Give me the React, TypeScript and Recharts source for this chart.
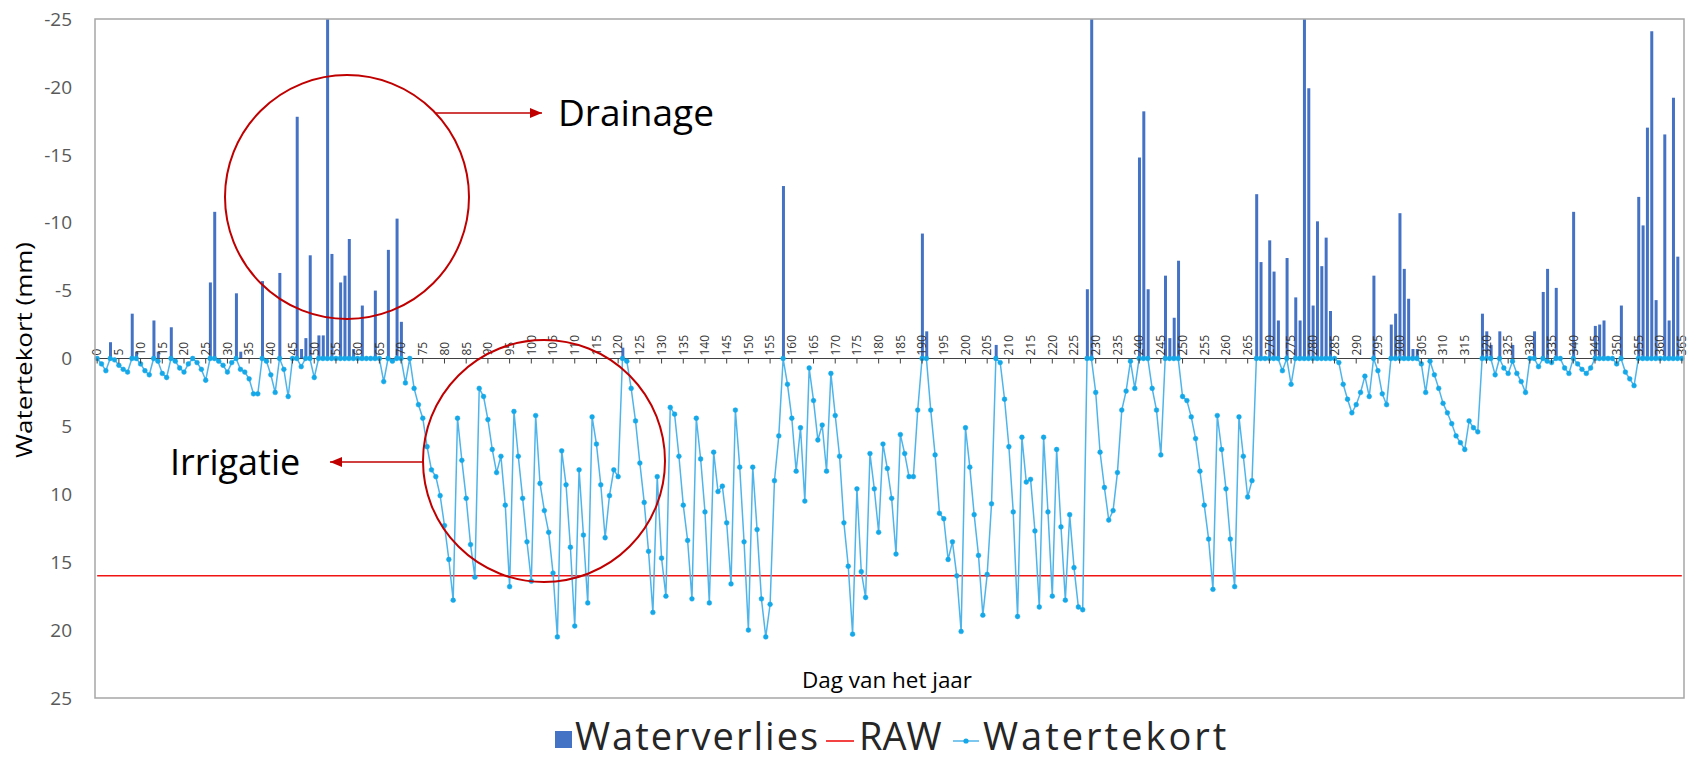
import React from 'react';
import { ComposedChart, Bar, Line, XAxis, YAxis, ReferenceLine } from 'recharts';

const W = 1690;
const H = 762;
const PLOT_LEFT = 95;
const PLOT_TOP = 19;
const PLOT_RIGHT = 1684;
const PLOT_BOTTOM = 698;
const ZERO_Y = (PLOT_TOP + PLOT_BOTTOM) / 2;

const yTicks = [-25, -20, -15, -10, -5, 0, 5, 10, 15, 20, 25];
const rawLevel = 16;

// Waterverlies (drainage), mm per day, day 0..365 (negative = upward)
const waterverlies = [
  0, 0, 0, -1.2, 0, 0, 0, 0, -3.3, -0.5,
  0, 0, 0, -2.8, -0.5, 0, 0, -2.3, 0, 0,
  0, 0, 0, 0, 0, 0, -5.6, -10.8, 0, 0,
  0, 0, -4.8, -0.5, 0, 0, 0, 0, -5.7, 0,
  0, 0, -6.3, 0, 0, 0, -17.8, -0.7, -1.5, -7.6,
  0, -1.7, -1.7, -28, -7.7, 0, -5.6, -6.1, -8.8, -0.7,
  0, -3.9, 0, 0, -5.0, 0, 0, -8.0, 0, -10.3,
  -2.7, 0, 0, 0, 0, 0, 0, 0, 0, 0,
  0, 0, 0, 0, 0, 0, 0, 0, 0, 0,
  0, 0, 0, 0, 0, 0, 0, 0, 0, 0,
  0, 0, 0, 0, 0, 0, 0, 0, 0, 0,
  0, 0, 0, 0, 0, 0, 0, 0, 0, 0,
  0, -0.8, 0, 0, 0, 0, 0, 0, 0, 0,
  0, 0, 0, 0, 0, 0, 0, 0, 0, 0,
  0, 0, 0, 0, 0, 0, 0, 0, 0, 0,
  0, 0, 0, 0, 0, 0, 0, 0, -12.7, 0,
  0, 0, 0, 0, 0, 0, 0, 0, 0, 0,
  0, 0, 0, 0, 0, 0, 0, 0, 0, 0,
  0, 0, 0, 0, 0, 0, 0, 0, 0, 0,
  -9.2, -2.0, 0, 0, 0, 0, 0, 0, 0, 0,
  0, 0, 0, 0, 0, 0, 0, -1.0, 0, 0,
  0, 0, 0, 0, 0, 0, 0, 0, 0, 0,
  0, 0, 0, 0, 0, 0, 0, 0, -5.1, -28,
  0, 0, 0, 0, 0, 0, 0, 0, 0, 0,
  -14.8, -18.2, -5.1, 0, 0, 0, -6.1, -1.5, -3.0, -7.2,
  0, 0, 0, 0, 0, 0, 0, 0, 0, 0,
  0, 0, 0, 0, 0, 0, 0, -12.1, -7.1, 0,
  -8.7, -6.4, -2.8, 0, -7.4, 0, -4.5, -2.8, -28, -19.9,
  -3.9, -10.1, -6.8, -8.9, -3.5, 0, 0, 0, 0, 0,
  0, 0, 0, 0, -6.1, 0, 0, 0, -2.5, -3.3,
  -10.7, -6.6, -4.4, -0.7, -0.7, 0, 0, 0, 0, 0,
  0, 0, 0, 0, 0, 0, 0, 0, 0, -3.3,
  -2.0, -1.0, 0, -2.0, 0, 0, -1.0, 0, 0, 0,
  0, -2.0, 0, -4.9, -6.6, 0, -5.2, 0, 0, 0,
  -10.8, 0, 0, 0, 0, -2.4, -2.5, -2.8, 0, 0,
  0, -3.9, 0, 0, 0, -11.9, -9.8, -17.0, -24.1, -4.3,
  0, -16.5, -2.8, -19.2, -7.5, 0,
];

// Watertekort (water deficit), mm, day 0..365
const watertekort = [
  0, 0.4, 0.9, 0, 0.1, 0.5, 0.8, 1.0, 0, 0,
  0.4, 0.9, 1.2, 0, 0.2, 1.1, 1.4, 0, 0.2, 0.7,
  1.0, 0.4, 0, 0.3, 0.8, 1.6, 0, 0, 0.2, 0.5,
  1.0, 0.3, 0, 0.8, 1.0, 1.5, 2.6, 2.6, 0, 0.2,
  1.2, 2.5, 0, 0.8, 2.8, 0, 0, 0.6, 0, 0,
  1.4, 0, 0, 0, 0, 0, 0, 0, 0, 0,
  0, 0, 0, 0, 0, 0, 1.7, 0, 0.2, 0,
  0, 1.8, 0, 2.2, 3.4, 4.4, 6.5, 8.2, 8.7, 10.1,
  12.3, 14.8, 17.8, 4.4, 7.5, 10.3, 13.7, 16.1, 2.2, 2.8,
  4.5, 6.7, 8.4, 7.2, 10.8, 16.8, 3.9, 7.2, 10.3, 13.5,
  16.4, 4.2, 9.2, 11.2, 12.8, 15.8, 20.5, 6.8, 9.3, 13.9,
  19.7, 8.2, 13.0, 18.0, 4.3, 6.3, 9.3, 13.2, 10.1, 8.2,
  8.7, 0, 0.2, 2.2, 4.6, 7.7, 10.6, 14.2, 18.7, 8.7,
  14.7, 17.5, 3.6, 4.1, 7.2, 10.8, 13.4, 17.7, 4.4, 7.4,
  11.3, 18.0, 6.9, 9.8, 9.4, 12.1, 16.6, 3.8, 8.0, 13.5,
  20.0, 8.0, 12.6, 17.7, 20.5, 18.1, 9.0, 5.7, 0, 1.9,
  4.4, 8.3, 5.1, 10.5, 0.7, 3.1, 6.0, 4.9, 8.3, 1.1,
  4.2, 7.2, 12.1, 15.3, 20.3, 9.6, 15.7, 17.6, 7.0, 9.6,
  12.8, 6.3, 8.1, 10.3, 14.4, 5.6, 7.0, 8.7, 8.7, 3.8,
  0, 0, 3.8, 7.1, 11.4, 11.8, 14.8, 13.5, 16.0, 20.1,
  5.1, 8.0, 11.5, 14.5, 18.9, 15.9, 10.7, 0, 0.3, 3.0,
  6.5, 11.3, 19.0, 5.8, 9.1, 8.9, 12.7, 18.3, 5.8, 11.3,
  17.5, 6.7, 12.4, 17.8, 11.5, 15.4, 18.3, 18.5, 0, 0,
  2.5, 6.9, 9.5, 11.9, 11.2, 8.4, 3.8, 2.4, 0.2, 2.2,
  0, 0, 0, 2.2, 3.8, 7.1, 0, 0, 0, 0,
  2.8, 3.1, 4.3, 5.9, 8.3, 10.8, 13.3, 17.0, 4.2, 6.7,
  9.6, 13.3, 16.8, 4.3, 7.2, 10.2, 9.0, 0, 0, 0,
  0, 0, 0, 0.9, 0, 1.9, 0, 0, 0, 0,
  0, 0, 0, 0, 0, 0, 0.3, 1.9, 3.0, 4.0,
  3.4, 2.5, 1.3, 2.8, 0, 0.9, 2.6, 3.4, 0, 0,
  0, 0, 0, 0, 0, 0.4, 2.5, 0.2, 1.2, 2.2,
  3.3, 4.0, 4.8, 5.7, 6.2, 6.7, 4.6, 5.1, 5.4, 0,
  0, 0, 1.2, 0, 0.7, 1.1, 0.2, 1.1, 1.7, 2.5,
  0, 0, 0.6, 0, 0.2, 0.3, 0, 0, 0.7, 1.1,
  0, 0.4, 0.8, 1.1, 0.7, 0, 0, 0, 0, 0,
  0.4, 0, 1.0, 1.5, 2.0, 0, 0, 0, 0, 0,
  0, 0, 0, 0, 0, 0,
];

const dagen = watertekort.map((_, i) => i);

const data = dagen.map((d, i) => ({
  dag: d,
  waterverlies: waterverlies[i],
  watertekort: watertekort[i],
  raw: rawLevel,
}));

const BAR_COLOR = '#4472C4';
const LINE_COLOR = '#4FB4EA';
const DOT_COLOR = '#14A8E8';
const RAW_COLOR = '#F01414';
const ANNOT_COLOR = '#C00000';
const FONT = '"Open Sans", "DejaVu Sans", sans-serif';

const DayTick = (props: any) => {
  const { x, payload } = props;
  const tx = x + 4.3;
  const ty = ZERO_Y - 3;
  return (
    <g>
      <line x1={x} x2={x} y1={ZERO_Y} y2={ZERO_Y + 5} stroke="#404040" strokeWidth={1} />
      <text
        x={tx}
        y={ty}
        transform={`rotate(-90 ${tx} ${ty})`}
        textAnchor="start"
        fontSize={12}
        fill="#333333"
        fontFamily={FONT}
      >
        {payload.value}
      </text>
    </g>
  );
};

export default function App() {
  const lcy = 741;
  const lfs = 38;
  const lby = 750;
  return (
    <div style={{ position: 'absolute', left: 0, top: 0, width: W, height: H, background: '#ffffff' }}>
      <ComposedChart
        width={W}
        height={H}
        data={data}
        margin={{ top: PLOT_TOP, right: W - PLOT_RIGHT, bottom: H - PLOT_BOTTOM - 1, left: 0 }}
        barSize={3}
        barGap={0}
      >
        <XAxis
          dataKey="dag"
          interval={4}
          height={1}
          axisLine={false}
          tickLine={false}
          tick={(p: any) => <DayTick {...p} />}
        />
        <YAxis
          type="number"
          domain={[-25, 25]}
          reversed
          ticks={yTicks}
          interval={0}
          allowDataOverflow
          width={PLOT_LEFT}
          axisLine={false}
          tickLine={false}
          tickMargin={17}
          tick={{ fill: '#595959', fontSize: 19, fontFamily: FONT }}
        />
        <ReferenceLine y={0} stroke="#404040" strokeWidth={1} />
        <Bar dataKey="waterverlies" name="Waterverlies" fill={BAR_COLOR} isAnimationActive={false} />
        <Line
          dataKey="raw"
          name="RAW"
          stroke={RAW_COLOR}
          strokeWidth={1.6}
          dot={false}
          isAnimationActive={false}
        />
        <Line
          dataKey="watertekort"
          name="Watertekort"
          stroke={LINE_COLOR}
          strokeWidth={1.5}
          dot={{ r: 2.4, fill: DOT_COLOR, stroke: DOT_COLOR, strokeWidth: 0.5 }}
          isAnimationActive={false}
        />
      </ComposedChart>
      <svg width={W} height={H} style={{ position: 'absolute', left: 0, top: 0, pointerEvents: 'none' }}>
        <defs>
          <marker id="ah" markerWidth="12" markerHeight="10" refX="12" refY="5" orient="auto" markerUnits="userSpaceOnUse">
            <path d="M0,0 L12,5 L0,10 z" fill={ANNOT_COLOR} />
          </marker>
        </defs>
        <rect
          x={PLOT_LEFT}
          y={PLOT_TOP}
          width={PLOT_RIGHT - PLOT_LEFT}
          height={PLOT_BOTTOM - PLOT_TOP}
          fill="none"
          stroke="#A6A6A6"
          strokeWidth={1.5}
        />
        <text
          transform="translate(23,350) rotate(-90)"
          textAnchor="middle"
          dominantBaseline="central"
          fontSize={22}
          fontFamily={FONT}
          fill="#000"
          textLength={216}
          lengthAdjust="spacingAndGlyphs"
        >
          Watertekort (mm)
        </text>
        <text
          x={887}
          y={688}
          textAnchor="middle"
          fontSize={21}
          fontFamily={FONT}
          fill="#000"
          textLength={170}
          lengthAdjust="spacingAndGlyphs"
        >
          Dag van het jaar
        </text>
        <circle cx={347} cy={197} r={122} fill="none" stroke={ANNOT_COLOR} strokeWidth={2} />
        <circle cx={544} cy={461} r={121} fill="none" stroke={ANNOT_COLOR} strokeWidth={2} />
        <line x1={436} y1={113} x2={542} y2={113} stroke={ANNOT_COLOR} strokeWidth={1.5} markerEnd="url(#ah)" />
        <text x={558} y={126} fontSize={37} fontFamily={FONT} fill="#000">Drainage</text>
        <line x1={423} y1={462} x2={330} y2={462} stroke={ANNOT_COLOR} strokeWidth={1.5} markerEnd="url(#ah)" />
        <text x={170} y={475} fontSize={36} fontFamily={FONT} fill="#000">Irrigatie</text>

        {/* Legend */}
        <rect x={555} y={731} width={17} height={17} fill={BAR_COLOR} />
        <text x={575} y={lby} fontSize={lfs} fontFamily={FONT} fill="#262626" letterSpacing={2}>Waterverlies</text>
        <line x1={826} x2={854} y1={lcy} y2={lcy} stroke={RAW_COLOR} strokeWidth={1.6} />
        <text x={859} y={lby} fontSize={lfs} fontFamily={FONT} fill="#262626">RAW</text>
        <line x1={953} x2={979} y1={lcy} y2={lcy} stroke={LINE_COLOR} strokeWidth={1.5} />
        <circle cx={966} cy={lcy} r={2.6} fill={DOT_COLOR} />
        <text x={983} y={lby} fontSize={lfs} fontFamily={FONT} fill="#262626" letterSpacing={3}>Watertekort</text>
      </svg>
    </div>
  );
}
